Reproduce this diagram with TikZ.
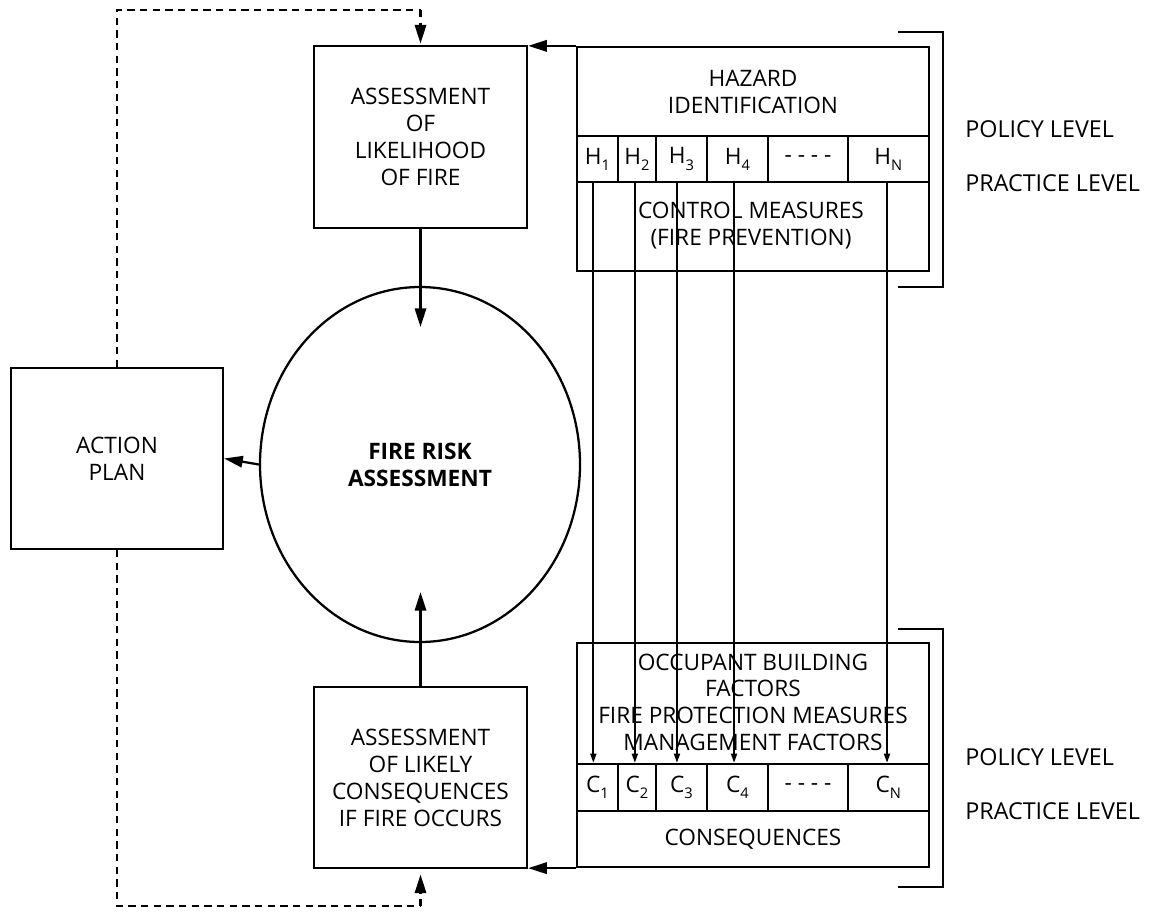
\documentclass[tikz,border=0pt]{standalone}
\usepackage{fontspec}
\setmainfont{Open Sans}
\usetikzlibrary{arrows.meta,shapes.geometric,calc}
\newcommand\lowsub[1]{\raisebox{-0.5ex}{\fontsize{11}{11}\selectfont #1}}
\begin{document}
\begin{tikzpicture}[x=0.75pt,y=-0.75pt,
 box/.style={draw, line width=1.7pt, inner sep=0pt, align=center, font=\fontsize{17}{20.25}\selectfont},
 cell/.style={draw, line width=1.7pt, inner sep=0pt, minimum height=34.5pt, font=\fontsize{17}{17}\selectfont},
 big/.style={-{Triangle[length=14pt,width=8.5pt]}, line width=1.7pt},
 small/.style={-{Triangle[length=7pt,width=4.5pt]}, line width=1.5pt},
 dsh/.style={dash pattern=on 5.5pt off 4pt, line width=1.7pt},
 lvl/.style={anchor=west, inner sep=0pt, font=\fontsize{17.5}{17.5}\selectfont},
 brk/.style={line width=1.7pt},
]
\useasboundingbox (0,0) rectangle (1151,911);

% left column
\node[box, minimum width=159.75pt, minimum height=136.5pt] (likeli) at (420.5,137)
  {ASSESSMENT\\OF\\LIKELIHOOD\\OF FIRE};
\node[box, minimum width=159.75pt, minimum height=135.75pt] (conseq) at (420.5,777.5)
  {ASSESSMENT\\OF LIKELY\\CONSEQUENCES\\IF FIRE OCCURS};
\node[box, minimum width=159pt, minimum height=135.75pt] (action) at (117,458.5)
  {ACTION\\PLAN};
\node[draw, ellipse, line width=1.7pt, inner sep=0pt, minimum width=240pt, minimum height=266.25pt,
  align=center, font=\fontsize{17}{20.25}\selectfont\bfseries] (fra) at (420,464.5)
  {FIRE RISK\\ASSESSMENT};
\coordinate (tipA) at (420.5,327);
\coordinate (tipB) at (420.5,592);

% hazard block
\node[box, minimum width=264pt, minimum height=66.75pt] (haz) at (753,91.5) {HAZARD\\IDENTIFICATION};
\node[box, minimum width=264pt, minimum height=66.75pt] (ctrl) at (753,226.5) {};
\node[cell, minimum width=30.5pt] (h1) at (597.35,159) {H\lowsub{1}};
\node[cell, minimum width=28.7pt] (h2) at (636.85,159) {H\lowsub{2}};
\node[cell, minimum width=38pt]   (h3) at (681.35,159) {H\lowsub{3}};
\node[cell, minimum width=46.2pt] (h4) at (737.5,159) {H\lowsub{4}};
\node[cell, minimum width=59.6pt] (hd) at (808,159) {- - - -};
\node[cell, minimum width=61pt]   (hn) at (888.35,159) {H\lowsub{N}};

% lower block
\node[box, minimum width=264pt, minimum height=90.75pt] (occ) at (753,703.5) {};
\node[cell, minimum width=30.5pt, minimum height=35.25pt] (c1) at (597.35,787.5) {C\lowsub{1}};
\node[cell, minimum width=28.7pt, minimum height=35.25pt] (c2) at (636.85,787.5) {C\lowsub{2}};
\node[cell, minimum width=38pt, minimum height=35.25pt]   (c3) at (681.35,787.5) {C\lowsub{3}};
\node[cell, minimum width=46.2pt, minimum height=35.25pt] (c4) at (737.5,787.5) {C\lowsub{4}};
\node[cell, minimum width=59.6pt, minimum height=35.25pt] (cd) at (808,787.5) {- - - -};
\node[cell, minimum width=61pt, minimum height=35.25pt]   (cn) at (888.35,787.5) {C\lowsub{N}};
\node[box, minimum width=264pt, minimum height=42pt] (cons) at (753,839) {CONSEQUENCES};

% vertical links H -> C
\draw[small] ([xshift=-3pt]h1.south) -- ([xshift=-3pt]c1.north);
\draw[small] ([xshift=-1.5pt]h2.south) -- ([xshift=-1.5pt]c2.north);
\draw[small] ([xshift=-3.3pt]h3.south) -- ([xshift=-3.3pt]c3.north);
\draw[small] ([xshift=-2.6pt]h4.south) -- ([xshift=-2.6pt]c4.north);
\draw[small] ([xshift=-1pt]hn.south) -- ([xshift=-1pt]cn.north);

% texts over the lines
\node[align=center, font=\fontsize{17}{20.25}\selectfont] (ctrltxt) at (751,226) {CONTROL MEASURES\\(FIRE PREVENTION)};
\node[align=center, font=\fontsize{17}{20}\selectfont] (occtxt) at (753,702) {OCCUPANT BUILDING\\FACTORS\\FIRE PROTECTION MEASURES\\MANAGEMENT FACTORS};

% arrows
\draw[big] (haz.north west) -- (haz.north west -| likeli.east);
\draw[big] (cons.south west) -- (cons.south west -| conseq.east);
\draw[big] (likeli.south) -- (tipA);
\draw[big] (conseq.north) -- (tipB);
\draw[big] (fra.west) -- (action.east);

% dashed feedback
\coordinate (dtop) at (420.5,10);
\coordinate (dbot) at (420.5,906);
\draw[dsh] (action.north) |- (dtop);
\draw[big, dsh] (dtop) -- ([yshift=1pt]likeli.north);
\draw[dsh] (action.south) |- (dbot);
\draw[big, dsh] (dbot) -- ([yshift=-4pt]conseq.south);

% brackets
\draw[brk] (898,32) -- (943,32) -- (943,287) -- (898,287);
\draw[brk] (898,629) -- (943,629) -- (943,887) -- (898,887);

% level labels
\node[lvl] (pol1) at (965,129) {POLICY LEVEL};
\node[lvl] (pra1) at (965,183) {PRACTICE LEVEL};
\node[lvl] (pol2) at (965,757) {POLICY LEVEL};
\node[lvl] (pra2) at (965,811) {PRACTICE LEVEL};
\end{tikzpicture}
\end{document}
